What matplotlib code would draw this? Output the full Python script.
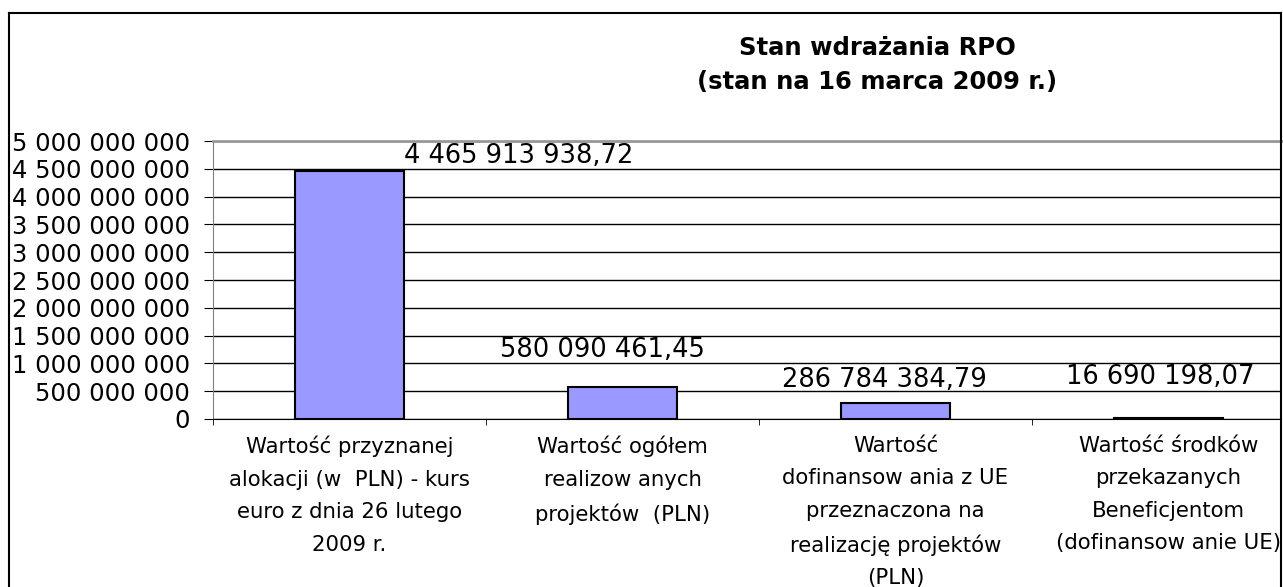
import matplotlib.pyplot as plt
from matplotlib.lines import Line2D
import numpy as np

plt.rcParams["font.family"] = ["DejaVu Sans"]

categories = [
    "Wartość przyznanej\nalokacji (w  PLN) - kurs\neuro z dnia 26 lutego\n2009 r.",
    "Wartość ogółem\nrealizow anych\nprojektów  (PLN)",
    "Wartość\ndofinansow ania z UE\nprzeznaczona na\nrealizację projektów\n(PLN)",
    "Wartość środków\nprzekazanych\nBeneficjentom\n(dofinansow anie UE)",
]
values = [4465913938.72, 580090461.45, 286784384.79, 16690198.07]
y_ticks = [0, 500e6, 1000e6, 1500e6, 2000e6, 2500e6, 3000e6, 3500e6, 4000e6, 4500e6, 5000e6]
title = "Stan wdrażania RPO\n(stan na 16 marca 2009 r.)"

# where Excel put the data labels (x in category units, y in axis units)
label_pos = [(0.62, 4.73e9), (0.925, 1.245e9), (1.958, 0.70e9), (2.97, 0.76e9)]


def pl_num(v, dec=2):
    s = f"{v:,.{dec}f}"
    return s.replace(",", " ").replace(".", ",")


fig = plt.figure(figsize=(12.83, 5.87), dpi=100)
ax = fig.add_axes([213 / 1283, 1 - 419 / 587, (1281 - 213) / 1283, (419 - 141) / 587])

x = np.arange(len(values))
ax.bar(x, values, width=0.4, color="#9999FF", edgecolor="black", linewidth=1.5, zorder=3)

ax.set_xlim(-0.5, 3.5 - 24 / 273)
ax.set_ylim(0, 5e9)
ax.set_yticks(y_ticks)
ax.set_yticklabels([pl_num(t, 0) for t in y_ticks], fontsize=17.5)
ax.yaxis.grid(True, color="black", linewidth=1)
ax.set_axisbelow(True)

ax.set_xticks(x)
ax.set_xticklabels(categories, fontsize=15.3, linespacing=1.78)
ax.set_xticks([-0.5, 0.5, 1.5, 2.5], minor=True)
ax.tick_params(axis="x", which="major", length=0, pad=12)
ax.tick_params(axis="x", which="minor", length=4.5, color="black")
ax.tick_params(axis="y", length=6.5, pad=10, color="black")

for sp in ["top", "right"]:
    ax.spines[sp].set_visible(False)
ax.spines["left"].set_color("#808080")
ax.spines["bottom"].set_color("black")
ax.axhline(5e9, color="#999999", linewidth=2, zorder=4, clip_on=False)

for (lx, ly), v in zip(label_pos, values):
    ax.text(lx, ly, pl_num(v), fontsize=18.5, ha="center", va="center")

fig.text(877 / 1283, 1 - 65 / 587, title, fontsize=17.5, fontweight="bold",
         ha="center", va="center", linespacing=1.55)

# outer chart frame (bottom edge is cut off in the original)
for xs, ys in [([9, 9], [13, 600]), ([9, 1281], [13, 13]), ([1281, 1281], [13, 600])]:
    fig.add_artist(Line2D([v / 1283 for v in xs], [1 - v / 587 for v in ys], color="black", linewidth=1.5))

plt.savefig("out.png", dpi=100)
